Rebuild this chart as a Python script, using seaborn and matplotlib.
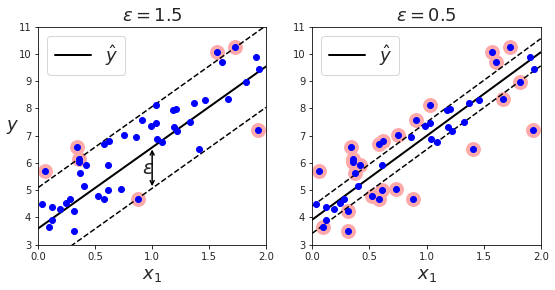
import numpy as np
import pandas as pd
import matplotlib
matplotlib.use("Agg")
import matplotlib.pyplot as plt
from matplotlib.patches import FancyArrowPatch
import seaborn as sns

# ---- data ----
x_vals = [0.03, 0.06, 0.09, 0.12, 0.12, 0.19, 0.24, 0.28, 0.31, 0.31,
          0.34, 0.36, 0.36, 0.37, 0.40, 0.42, 0.52, 0.58, 0.58, 0.61,
          0.61, 0.62, 0.73, 0.75, 0.86, 0.88, 0.91, 0.99, 1.03, 1.03,
          1.04, 1.09, 1.18, 1.21, 1.19, 1.22, 1.33, 1.37, 1.41, 1.46,
          1.57, 1.61, 1.67, 1.73, 1.82, 1.91, 1.94, 1.93]
y_vals = [4.48, 5.69, 3.64, 3.91, 4.37, 4.30, 4.54, 4.67, 4.23, 3.50,
          6.57, 6.14, 6.04, 5.62, 5.14, 5.91, 4.78, 4.66, 6.71, 5.91,
          5.00, 6.79, 5.03, 7.01, 6.94, 4.66, 7.56, 7.34, 8.12, 7.45,
          6.87, 6.76, 7.93, 7.99, 7.32, 7.19, 7.49, 8.19, 6.50, 8.31,
          10.06, 9.69, 8.35, 10.24, 8.96, 9.88, 9.44, 7.21]

epsilons = [1.5, 0.5]
intercepts = [3.60, 3.92]
slopes = [2.97, 3.07]
support_idx = [
    [1, 10, 11, 25, 40, 43, 47],
    [1, 2, 8, 9, 10, 11, 12, 13, 15, 16, 17, 18, 20, 21, 22, 23, 25, 26,
     28, 38, 40, 41, 42, 43, 44, 47],
]
x_ticks = [0.0, 0.5, 1.0, 1.5, 2.0]
y_ticks = [3, 4, 5, 6, 7, 8, 9, 10, 11]

sns.set_style("ticks")
plt.rcParams["font.family"] = ["DejaVu Sans"]
plt.rcParams["mathtext.fontset"] = "dejavusans"

DPI = 72
fig = plt.figure(figsize=(555 / DPI, 290 / DPI), dpi=DPI)
positions = [[38.3 / 555, 45.3 / 290, 227.7 / 555, 218 / 290],
             [312.3 / 555, 45.3 / 290, 228.4 / 555, 218 / 290]]

df = pd.DataFrame({"x": x_vals, "y": y_vals})
x1s = np.linspace(0, 2, 100)

for k in range(2):
    ax = fig.add_axes(positions[k])
    eps = epsilons[k]
    pred = intercepts[k] + slopes[k] * x1s
    line_df = pd.DataFrame({"x": x1s, "pred": pred, "up": pred + eps, "lo": pred - eps})
    sns.lineplot(data=line_df, x="x", y="pred", color="k", linewidth=2,
                 label=r"$\hat{y}$", ax=ax)
    sns.lineplot(data=line_df, x="x", y="up", color="k", linewidth=1.5,
                 linestyle="--", ax=ax, legend=False)
    sns.lineplot(data=line_df, x="x", y="lo", color="k", linewidth=1.5,
                 linestyle="--", ax=ax, legend=False)
    sv = df.iloc[support_idx[k]]
    sns.scatterplot(data=sv, x="x", y="y", s=180, color="#FFAAAA",
                    edgecolor="#FFAAAA", linewidth=1.5, ax=ax, legend=False)
    sns.scatterplot(data=df, x="x", y="y", s=36, color="blue",
                    edgecolor="blue", linewidth=1, ax=ax, legend=False, zorder=3)
    ax.set_xlim(0, 2)
    ax.set_ylim(3, 11)
    ax.set_xticks(x_ticks)
    ax.set_yticks(y_ticks)
    ax.tick_params(labelsize=10, length=3.5, width=0.8, color="black")
    for s in ax.spines.values():
        s.set_visible(True)
        s.set_color("black")
        s.set_linewidth(0.8)
    ax.set_xlabel(r"$x_1$", fontsize=18)
    ax.set_ylabel("")
    ax.set_title(r"$\epsilon = {}$".format(eps), fontsize=18)
    ax.legend(loc="upper left", fontsize=18)
    if k == 0:
        ax.set_ylabel(r"$y$", fontsize=18, rotation=0, labelpad=6)
        yp = intercepts[0] + slopes[0] * 1.0
        arrow = FancyArrowPatch((1.0, yp - eps), (1.0, yp), arrowstyle="<->",
                                mutation_scale=10, linewidth=1.5, color="k",
                                shrinkA=2, shrinkB=2, zorder=4)
        ax.add_patch(arrow)
        ax.text(0.91, 5.6, r"$\epsilon$", fontsize=20)

fig.savefig("out.png", dpi=DPI)
